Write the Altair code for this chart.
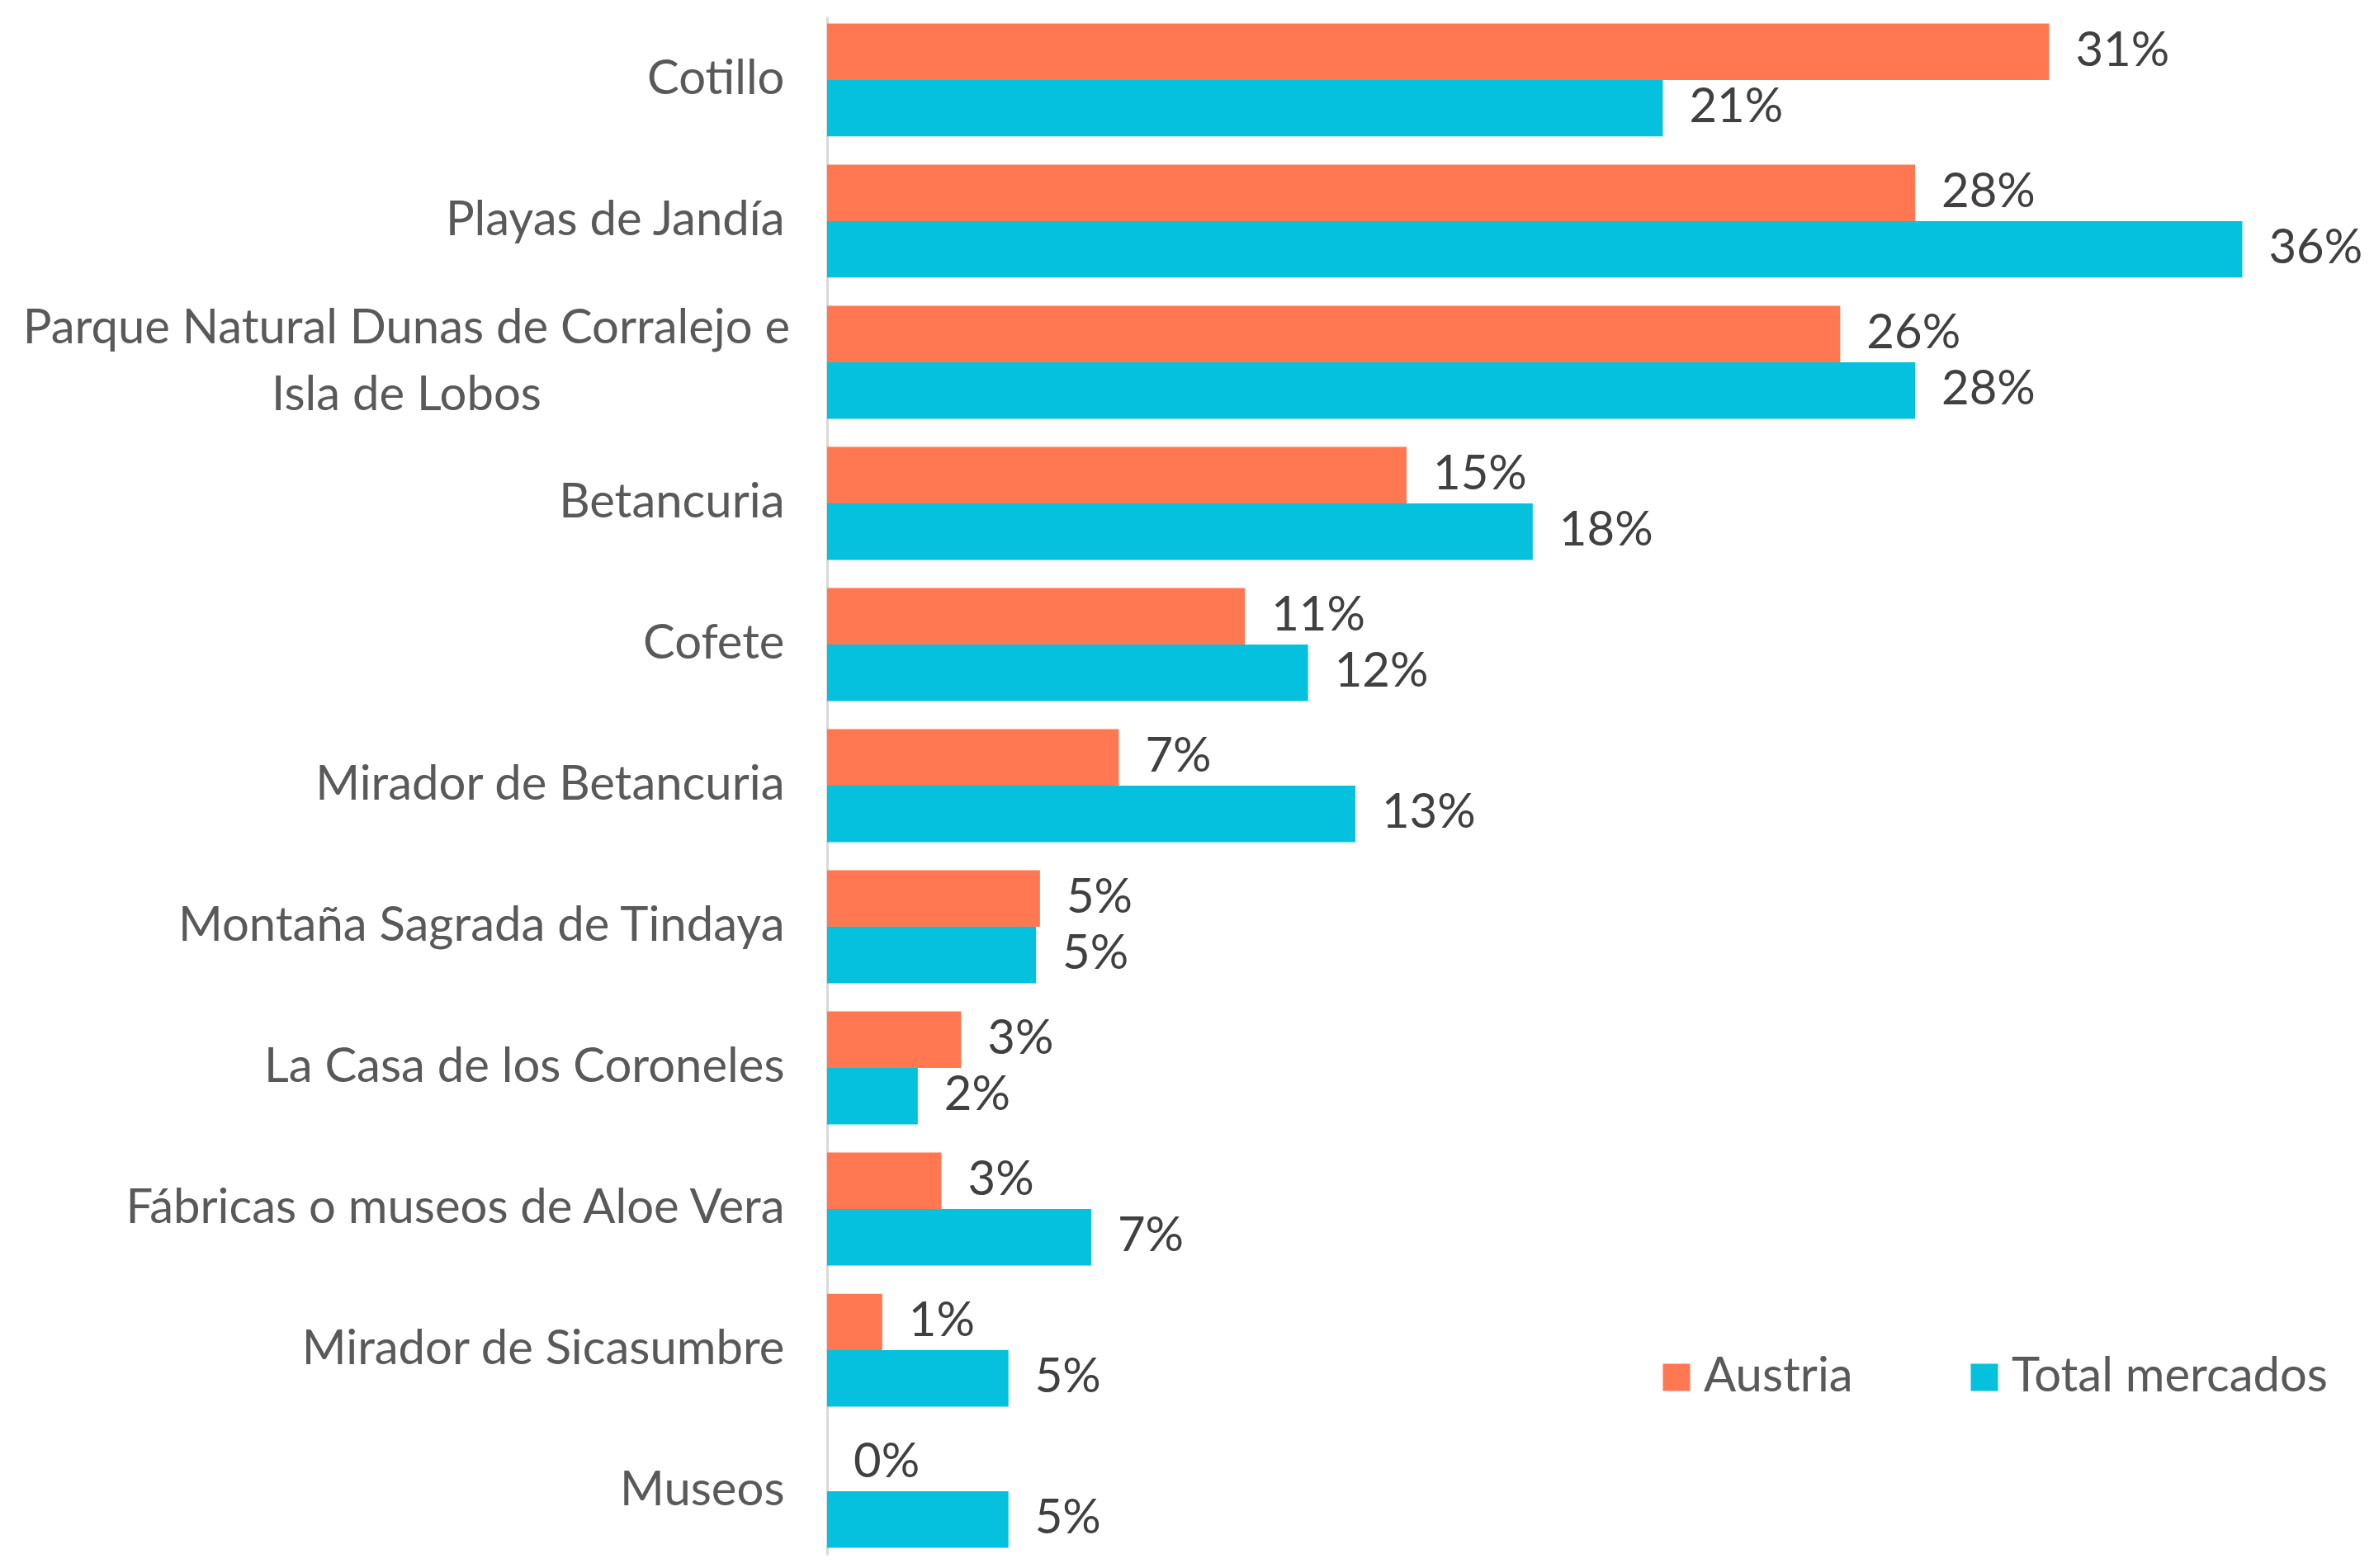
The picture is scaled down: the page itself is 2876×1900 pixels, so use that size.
import altair as alt
import pandas as pd

categories = [
    "Cotillo",
    "Playas de Jandía",
    "Parque Natural Dunas de Corralejo e Isla de Lobos",
    "Betancuria",
    "Cofete",
    "Mirador de Betancuria",
    "Montaña Sagrada de Tindaya",
    "La Casa de los Coroneles",
    "Fábricas o museos de Aloe Vera",
    "Mirador de Sicasumbre",
    "Museos",
]
series = ["Austria", "Total mercados"]
austria = [31.0, 27.6, 25.7, 14.7, 10.6, 7.4, 5.4, 3.4, 2.9, 1.4, 0.0]
total = [21.2, 35.9, 27.6, 17.9, 12.2, 13.4, 5.3, 2.3, 6.7, 4.6, 4.6]
colors = ["#FF7852", "#05C1DE"]

rows = []
for c, a, t in zip(categories, austria, total):
    rows.append({"categoria": c, "serie": series[0], "valor": a, "etiqueta": f"{a:.0f}%"})
    rows.append({"categoria": c, "serie": series[1], "valor": t, "etiqueta": f"{t:.0f}%"})
df = pd.DataFrame(rows)

FONT = "Lato"
FS = 58

long_label = categories[2]
is_long = f"datum.value == '{long_label}'"
label_expr = (
    f"datum.label == '{long_label}' ? "
    "['Parque Natural Dunas de Corralejo e', 'Isla de Lobos'] : datum.label"
)

y_enc = alt.Y(
    "categoria:N",
    sort=categories,
    title=None,
    scale=alt.Scale(paddingInner=0.2, paddingOuter=0.05),
    axis=alt.Axis(
        ticks=False,
        domain=True,
        domainColor="#D9D9D9",
        domainWidth=3,
        labelFont=FONT,
        labelFontSize=FS,
        labelColor="#595959",
        labelLimit=1200,
        labelPadding={"condition": {"test": is_long, "value": 510}, "value": 52},
        labelAlign={"condition": {"test": is_long, "value": "center"}, "value": "right"},
        labelOffset={"condition": {"test": is_long, "value": -40}, "value": 0},
        labelLineHeight=81,
        labelExpr=label_expr,
        grid=False,
    ),
)
yoff = alt.YOffset("serie:N", sort=series, scale=alt.Scale(paddingInner=0, paddingOuter=0))
x_enc = alt.X("valor:Q", scale=alt.Scale(domain=[0, 37]), axis=None)

base = alt.Chart(df)

bars = base.mark_bar().encode(
    y=y_enc,
    yOffset=yoff,
    x=x_enc,
    color=alt.Color(
        "serie:N",
        sort=series,
        scale=alt.Scale(domain=series, range=colors),
        legend=alt.Legend(
            title=None,
            orient="none",
            direction="horizontal",
            legendX=1000,
            legendY=1620,
            symbolType="square",
            symbolSize=1085,
            symbolStrokeWidth=0,
            symbolOpacity=1,
            labelFont=FONT,
            labelFontSize=FS,
            labelColor="#595959",
            labelOffset=4,
            columnPadding=130,
            labelLimit=600,
        ),
    ),
)

text = base.mark_text(
    align="left", baseline="middle", dx=32, font=FONT, fontSize=FS, color="#404040"
).encode(
    y=alt.Y("categoria:N", sort=categories),
    yOffset=yoff,
    x=x_enc,
    text="etiqueta:N",
)

chart = (
    alt.layer(bars, text)
    .properties(
        width=1767,
        height=1864,
        autosize=alt.AutoSizeParams(type="none"),
        padding={"left": 994, "top": 12, "right": 97, "bottom": 4},
    )
    .configure(background="white")
    .configure_view(stroke=None)
)

chart.save("out.html", embed_options={"renderer": "svg", "actions": False})
